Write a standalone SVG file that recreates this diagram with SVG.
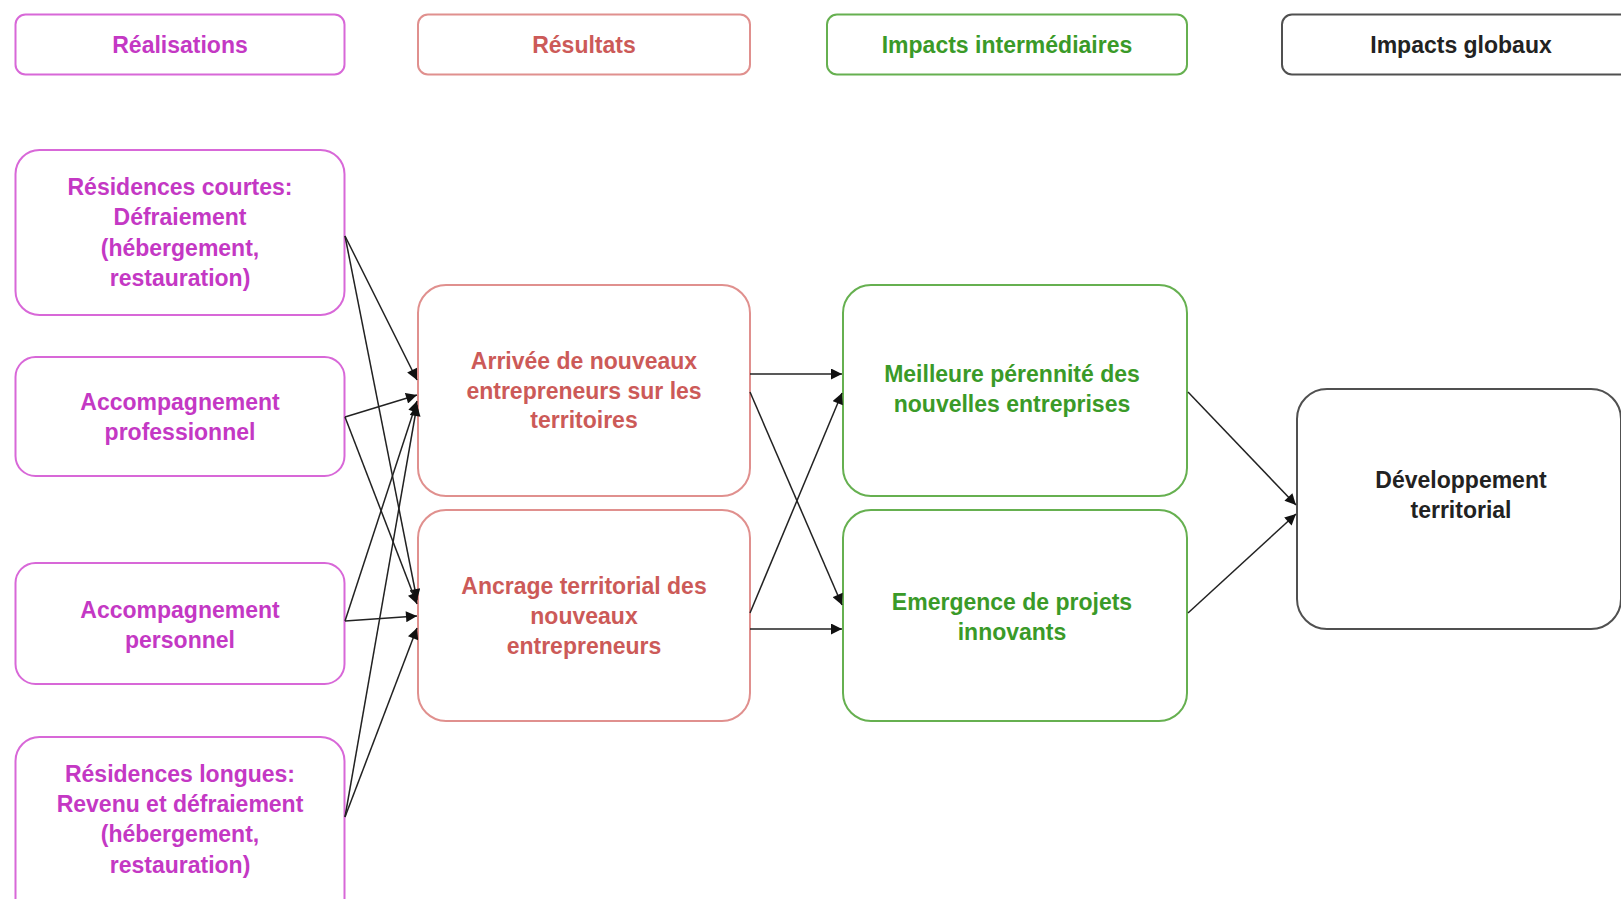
<svg xmlns="http://www.w3.org/2000/svg" width="1621" height="899" viewBox="0 0 1621 899">
<defs>
<marker id="arr" viewBox="0 0 10 10" refX="10" refY="5" markerWidth="12" markerHeight="11" markerUnits="userSpaceOnUse" orient="auto">
<path d="M0,0 L10,5 L0,10 z" fill="#111"/>
</marker>
<style>
text{font-family:"Liberation Sans Narrow","Liberation Sans",Arial,sans-serif;font-weight:bold;font-size:23px;text-anchor:middle}
.box{fill:#fff;stroke-width:2}
.pk rect{stroke:#d868d8}.pk text{fill:#c438c4}
.rd rect{stroke:#e0908e}.rd text{fill:#cc5a58}
.gr rect{stroke:#66b050}.gr text{fill:#3a9a28}
.bk rect{stroke:#505050}.bk text{fill:#222}
.c line{stroke:#222;stroke-width:1.5;marker-end:url(#arr)}
</style>
</defs>
<rect width="1621" height="899" fill="#fff"/>
<g id="h-realisations" class="pk"><rect class="box" x="15.5" y="14.5" width="329" height="60" rx="10"/><text x="180" y="53">Réalisations</text></g>
<g id="h-resultats" class="rd"><rect class="box" x="418" y="14.5" width="332" height="60" rx="10"/><text x="584" y="53">Résultats</text></g>
<g id="h-intermediaires" class="gr"><rect class="box" x="827" y="14.5" width="360" height="60" rx="10"/><text x="1007" y="53">Impacts  intermédiaires</text></g>
<g id="h-globaux" class="bk"><rect class="box" x="1282" y="14.5" width="360" height="60" rx="10"/><text x="1461" y="53">Impacts  globaux</text></g>

<g id="n-courtes" class="pk"><rect class="box" x="15.5" y="150" width="329" height="165" rx="24"/>
<text x="180" y="195">Résidences  courtes:</text><text x="180" y="225">Défraiement</text><text x="180" y="256">(hébergement,</text><text x="180" y="286">restauration)</text></g>
<g id="n-pro" class="pk"><rect class="box" x="15.5" y="357" width="329" height="119" rx="20"/>
<text x="180" y="410">Accompagnement</text><text x="180" y="440">professionnel</text></g>
<g id="n-perso" class="pk"><rect class="box" x="15.5" y="563" width="329" height="121" rx="20"/>
<text x="180" y="618">Accompagnement</text><text x="180" y="648">personnel</text></g>
<g id="n-longues" class="pk"><rect class="box" x="15.5" y="737" width="329" height="190" rx="24"/>
<text x="180" y="782">Résidences  longues:</text><text x="180" y="812">Revenu  et  défraiement</text><text x="180" y="842">(hébergement,</text><text x="180" y="873">restauration)</text></g>

<g id="n-arrivee" class="rd"><rect class="box" x="418" y="285" width="332" height="211" rx="28"/>
<text x="584" y="369">Arrivée  de nouveaux</text><text x="584" y="399">entrepreneurs  sur  les</text><text x="584" y="428">territoires</text></g>
<g id="n-ancrage" class="rd"><rect class="box" x="418" y="510" width="332" height="211" rx="28"/>
<text x="584" y="594">Ancrage territorial des</text><text x="584" y="624">nouveaux</text><text x="584" y="654">entrepreneurs</text></g>

<g id="n-perennite" class="gr"><rect class="box" x="843" y="285" width="344" height="211" rx="28"/>
<text x="1012" y="382">Meilleure pérennité des</text><text x="1012" y="412">nouvelles entreprises</text></g>
<g id="n-emergence" class="gr"><rect class="box" x="843" y="510" width="344" height="211" rx="28"/>
<text x="1012" y="610">Emergence de projets</text><text x="1012" y="640">innovants</text></g>

<g id="n-dev" class="bk"><rect class="box" x="1297" y="389" width="324" height="240" rx="30"/>
<text x="1461" y="488">Développement</text><text x="1461" y="518">territorial</text></g>

<g id="connectors" class="c">
<line x1="345" y1="236" x2="417" y2="380"/>
<line x1="345" y1="236" x2="417" y2="600"/>
<line x1="345" y1="417" x2="417" y2="395"/>
<line x1="345" y1="417" x2="417" y2="604"/>
<line x1="345" y1="621" x2="417" y2="401"/>
<line x1="345" y1="621" x2="417" y2="616"/>
<line x1="345" y1="817" x2="417" y2="405"/>
<line x1="345" y1="817" x2="417" y2="628"/>
<line x1="750" y1="374" x2="842" y2="374"/>
<line x1="750" y1="392" x2="842" y2="605"/>
<line x1="750" y1="613" x2="842" y2="393"/>
<line x1="750" y1="629" x2="842" y2="629"/>
<line x1="1188" y1="392" x2="1296" y2="505"/>
<line x1="1188" y1="613" x2="1296" y2="514"/>
</g>
</svg>
